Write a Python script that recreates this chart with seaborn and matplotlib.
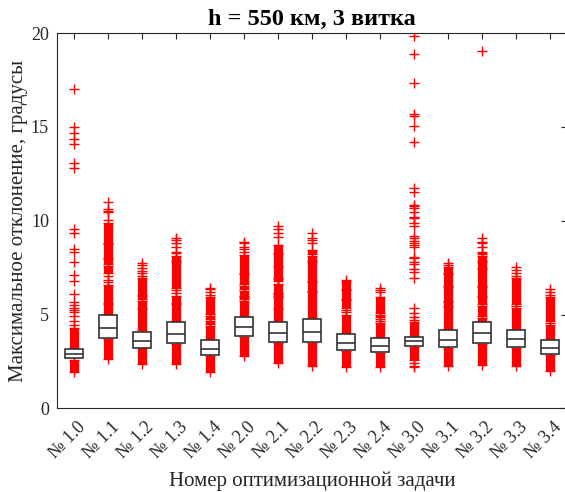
import numpy as np
import pandas as pd
import matplotlib
matplotlib.use("Agg")
import matplotlib.pyplot as plt
import matplotlib.transforms as mtransforms
import seaborn as sns

# ---------------- data ----------------
tasks = ["№ 1.0", "№ 1.1", "№ 1.2", "№ 1.3", "№ 1.4",
         "№ 2.0", "№ 2.1", "№ 2.2", "№ 2.3", "№ 2.4",
         "№ 3.0", "№ 3.1", "№ 3.2", "№ 3.3", "№ 3.4"]

q1 = [2.66, 3.75, 3.23, 3.46, 2.84, 3.87, 3.52, 3.52, 3.09, 2.98, 3.34, 3.25, 3.46, 3.25, 2.88]
median = [2.87, 4.28, 3.60, 3.96, 3.16, 4.35, 3.99, 4.05, 3.48, 3.34, 3.57, 3.64, 3.99, 3.68, 3.23]
q3 = [3.18, 4.95, 4.08, 4.58, 3.62, 4.88, 4.62, 4.74, 3.94, 3.73, 3.82, 4.17, 4.58, 4.15, 3.64]

# ranges densely filled with outliers (low, high)
dense_ranges = [
    [(1.95, 2.60), (3.24, 4.26)],
    [(2.61, 3.70), (5.00, 5.55), (5.62, 6.57), (7.23, 7.60), (7.68, 7.95), (8.03, 8.75), (8.83, 9.86)],
    [(2.36, 3.19), (4.15, 5.27), (5.33, 5.74), (5.80, 5.98), (6.04, 6.96)],
    [(2.36, 3.42), (4.63, 5.55), (5.63, 5.98), (6.40, 7.78), (7.86, 8.12)],
    [(1.95, 2.81), (3.68, 4.40), (4.48, 4.67), (4.75, 4.93), (5.01, 5.91)],
    [(2.80, 3.82), (4.93, 5.73), (5.81, 5.91), (5.99, 6.26), (6.34, 6.53), (6.61, 7.15), (7.23, 8.17)],
    [(2.40, 3.47), (4.68, 5.29), (5.37, 5.91), (5.99, 6.09), (6.17, 6.62), (6.79, 6.89), (6.97, 7.51), (7.59, 8.22), (8.30, 8.70)],
    [(2.25, 3.47), (4.79, 6.18), (6.26, 6.71), (6.79, 7.78), (7.86, 8.13), (8.21, 8.44)],
    [(2.22, 3.04), (3.99, 4.97), (5.33, 5.75), (5.83, 6.30), (6.38, 6.84)],
    [(2.22, 2.93), (3.78, 4.56), (4.85, 4.99), (5.06, 5.95)],
    [(2.57, 3.29), (3.87, 4.58)],
    [(2.25, 3.20), (4.22, 5.38), (5.46, 5.64), (5.72, 6.44), (6.52, 7.15), (7.23, 7.55)],
    [(2.31, 3.42), (4.63, 4.84), (4.92, 5.47), (5.55, 5.91), (5.99, 6.44), (6.52, 7.42), (7.50, 7.78), (7.86, 8.13), (8.21, 8.35)],
    [(2.25, 3.19), (4.20, 5.33), (5.56, 6.93)],
    [(1.99, 2.84), (3.69, 4.44), (4.67, 5.91)],
]

# isolated outliers
sparse_outliers = [
    [4.44, 4.65, 4.92, 5.15, 5.24, 5.33, 5.51, 5.68, 6.09, 6.80, 7.10, 7.82, 8.35, 8.47, 9.36, 9.54,
     12.79, 13.06, 14.09, 14.34, 14.66, 14.98, 17.0],
    [6.75, 6.85, 7.05, 10.04, 10.45, 10.53, 10.63, 11.0],
    [7.05, 7.23, 7.33, 7.46, 7.64, 7.75],
    [6.15, 6.30, 8.26, 8.35, 8.61, 8.79, 8.97, 9.06],
    [6.04, 6.22, 6.34, 6.43],
    [8.35, 8.47, 8.61, 8.79, 8.88],
    [9.15, 9.33, 9.54, 9.72],
    [8.79, 8.97, 9.06, 9.33],
    [5.12, 5.22, 6.75],
    [4.65, 4.75, 6.22, 6.30, 6.39],
    [2.22, 2.27, 2.40, 4.71, 4.88, 5.06, 5.33, 6.93, 7.28, 7.41, 7.69, 7.82, 7.99, 8.08, 8.61, 8.70,
     8.83, 8.93, 9.06, 9.18, 9.72, 9.86, 10.13, 10.21, 10.48, 10.66, 10.78, 10.84, 11.55, 11.73,
     14.21, 15.07, 15.58, 15.69, 17.33, 18.87, 19.85],
    [7.64, 7.75],
    [8.61, 8.79, 8.88, 9.06, 19.06],
    [5.45, 7.05, 7.19, 7.37, 7.51],
    [4.53, 6.04, 6.22, 6.34],
]

title = "h = 550 км, 3 витка"
xlabel = "Номер оптимизационной задачи"
ylabel = "Максимальное отклонение, градусы"

# ---------------- style ----------------
sns.set_style("white")
plt.rcParams["font.family"] = ["Liberation Serif", "DejaVu Serif"]

W, H = 565, 492
fig = plt.figure(figsize=(W / 100, H / 100), dpi=100)
ax = fig.add_axes([57.3 / W, (H - 408.3) / H, 510 / W, 375.2 / H])

positions = np.arange(1, len(tasks) + 1)
axis_col = "#262626"
box_col = "#333333"

# boxes (whiskers coincide with the box: everything outside is an outlier)
stats = [dict(med=m, q1=a, q3=b, whislo=a, whishi=b, fliers=[], label=t)
         for t, a, m, b in zip(tasks, q1, median, q3)]
ax.bxp(stats, positions=positions, widths=0.52, showcaps=False, showfliers=False,
       patch_artist=True,
       boxprops=dict(facecolor="white", edgecolor=box_col, linewidth=1.2),
       medianprops=dict(color=box_col, linewidth=1.2),
       whiskerprops=dict(color=box_col, linewidth=0), zorder=4)

# dense outlier stacks
for p, segs in zip(positions, dense_ranges):
    lo = [s[0] for s in segs]
    hi = [s[1] for s in segs]
    lc = ax.vlines([p] * len(segs), lo, hi, colors="red", linewidth=6.6, zorder=2)
    lc.set_capstyle("butt")

# outlier markers via seaborn
rows = []
for p, segs, pts in zip(positions, dense_ranges, sparse_outliers):
    for v in pts:
        rows.append((p, v))
    for lo, hi in segs:
        rows.append((p, lo))
        rows.append((p, hi))
df = pd.DataFrame(rows, columns=["pos", "value"])
sns.scatterplot(data=df, x="pos", y="value", marker="+", color="red", s=46,
                linewidth=1.0, ax=ax, legend=False, zorder=3)

# axes
ax.set_xlim(0.5, 15.5)
ax.set_ylim(0, 20)
ax.set_yticks([0, 5, 10, 15, 20])
ax.set_xticks(positions)
ax.set_xticklabels(tasks, rotation=45, ha="right", va="center", rotation_mode="anchor")
ax.tick_params(axis="both", direction="in", length=4, width=0.8, color=axis_col,
               labelsize=13, labelcolor="#262626", top=True, right=True)
ax.tick_params(axis="x", pad=12)
ax.tick_params(axis="y", pad=6)
shift = mtransforms.ScaledTranslation(9 / 100, 0, fig.dpi_scale_trans)
for lab in ax.get_xticklabels():
    lab.set_transform(lab.get_transform() + shift)
for sp in ax.spines.values():
    sp.set_color(axis_col)
    sp.set_linewidth(0.8)

ax.set_xlabel(xlabel, fontsize=15, color="#262626", labelpad=7)
ax.set_ylabel(ylabel, fontsize=15, color="#262626")
ax.yaxis.set_label_coords((28 - 57.3) / 510, 0.5)
ax.set_title(title, fontsize=17.5, fontweight="bold", color="black", pad=6)

fig.savefig("out.png", dpi=100)
